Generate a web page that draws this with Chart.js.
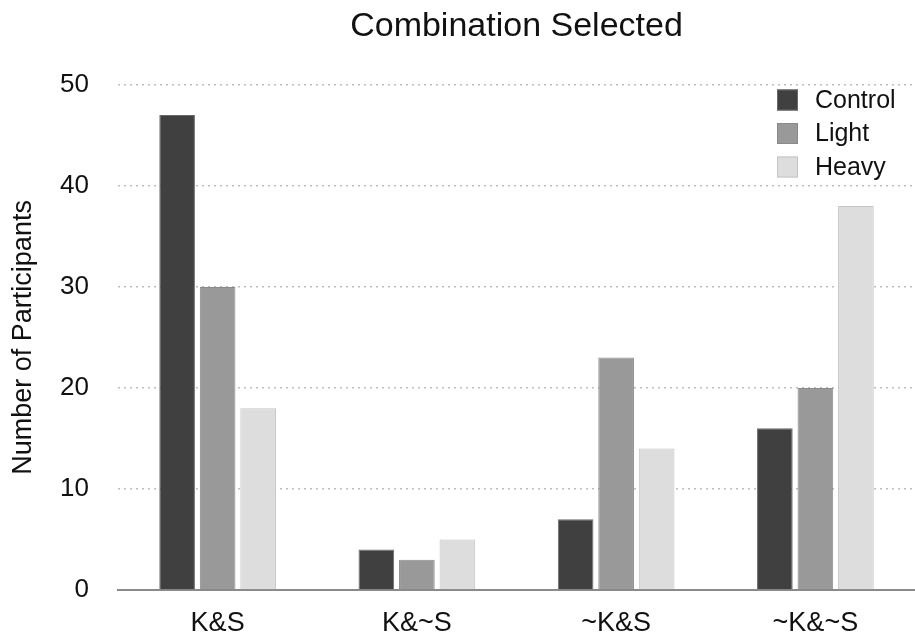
<!DOCTYPE html>
<html>
<head>
<meta charset="utf-8">
<script src="https://cdn.jsdelivr.net/npm/chart.js@4"></script>
<style>
  body { margin: 0; background: #fff; }
  #wrap { width: 915px; height: 639px; }
</style>
</head>
<body>
<div id="wrap"><canvas id="chart" width="915" height="639"></canvas></div>
<script>
// data
const categories = ['K&S', 'K&~S', '~K&S', '~K&~S']
const control = [47, 4, 7, 16]
const light = [30, 3, 23, 20]
const heavy = [18, 5, 14, 38]
const yTicks = [0, 10, 20, 30, 40, 50]

const FONT = "'Liberation Sans', Arial, Helvetica, sans-serif"

// legend in the top right corner of the plot, like the original
const boxLegend = {
    id: 'boxLegend',
    afterDraw(chart) {
        let ctx = chart.ctx
        ctx.save()
        ctx.font = '25px ' + FONT
        ctx.textBaseline = 'middle'
        ctx.textAlign = 'left'
        chart.data.datasets.forEach(function (ds, i) {
            let y = 100 + i * 33.5
            ctx.fillStyle = ds.backgroundColor
            ctx.fillRect(777, y - 10.5, 21, 21)
            ctx.strokeStyle = ds.borderColor
            ctx.lineWidth = 1
            ctx.strokeRect(777.5, y - 10, 20, 20)
            ctx.fillStyle = '#111'
            ctx.fillText(ds.label, 815, y + 1)
        })
        ctx.restore()
    }
}

let ctx = document.getElementById('chart').getContext('2d')

let barChart = new Chart(ctx, {
    type: 'bar',
    data: {
        labels: categories,
        datasets: [{
            label: 'Control',
            data: control,
            backgroundColor: '#404040',
            borderColor: '#6a6a6a',
            borderWidth: 1
        }, {
            label: 'Light',
            data: light,
            backgroundColor: '#999999',
            borderColor: '#8a8a8a',
            borderWidth: 1
        }, {
            label: 'Heavy',
            data: heavy,
            backgroundColor: '#dddddd',
            borderColor: '#c4c4c4',
            borderWidth: 1
        }]
    },
    options: {
        responsive: false,
        animation: false,
        devicePixelRatio: 1,
        categoryPercentage: 0.61,
        barPercentage: 0.88,
        layout: { padding: { left: 0, right: 0, top: 0, bottom: 0 } },
        plugins: {
            legend: { display: false },
            tooltip: { enabled: false },
            title: {
                display: true,
                text: 'Combination Selected',
                fullSize: false,
                color: '#111',
                font: { family: FONT, size: 34, weight: 'normal' },
                padding: { top: 6, bottom: 38 }
            }
        },
        scales: {
            x: {
                afterFit: function (scale) {
                    scale.height = 49
                },
                grid: { display: false },
                border: { display: true, color: '#8a8a8a', width: 2 },
                ticks: {
                    color: '#111',
                    padding: 9,
                    font: { family: FONT, size: 27 }
                }
            },
            y: {
                min: 0,
                max: 50,
                afterBuildTicks: function (scale) {
                    scale.ticks = yTicks.map(function (v) { return { value: v } })
                },
                afterFit: function (scale) {
                    scale.width = 118
                },
                border: { display: false, dash: [2, 4] },
                grid: {
                    drawTicks: false,
                    lineWidth: 1.5,
                    color: function (c) {
                        return c.tick && c.tick.value === 0 ? 'rgba(0,0,0,0)' : '#bdbdbd'
                    }
                },
                ticks: {
                    color: '#111',
                    padding: 29,
                    font: { family: FONT, size: 26 }
                },
                title: {
                    display: true,
                    text: 'Number of Participants',
                    color: '#111',
                    padding: { top: 7, bottom: 0 },
                    font: { family: FONT, size: 27 }
                }
            }
        }
    },
    plugins: [boxLegend]
});
</script>
</body>
</html>
